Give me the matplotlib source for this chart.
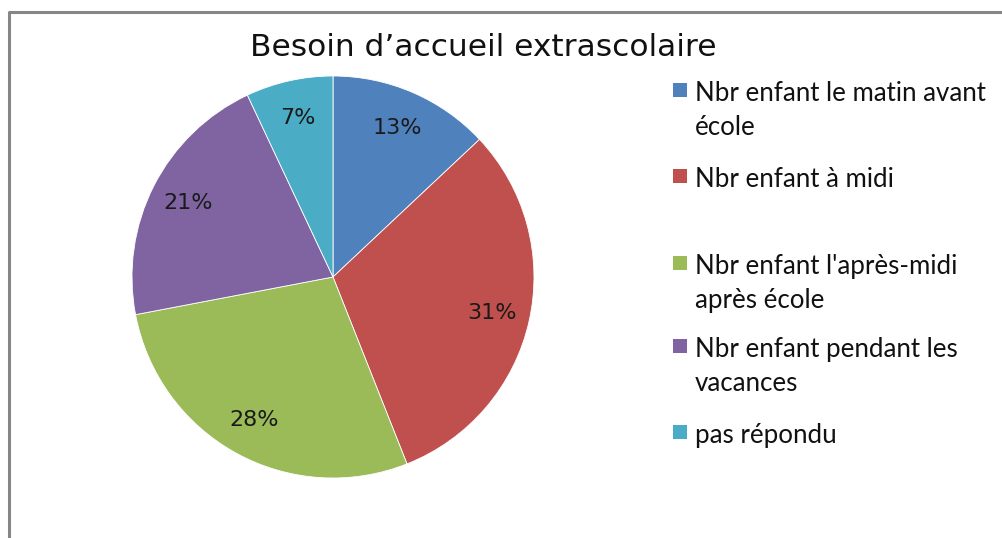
import matplotlib.pyplot as plt
from matplotlib.lines import Line2D
from matplotlib.patches import Rectangle

title = "Besoin d\u2019accueil extrascolaire"
categories = [
    "Nbr enfant le matin avant\n\u00e9cole",
    "Nbr enfant \u00e0 midi",
    "Nbr enfant l'apr\u00e8s-midi\napr\u00e8s \u00e9cole",
    "Nbr enfant pendant les\nvacances",
    "pas r\u00e9pondu",
]
values = [13, 31, 28, 21, 7]
colors = ["#4F81BD", "#C0504D", "#9BBB59", "#8064A2", "#4BACC6"]

W, H = 1002, 538
fig = plt.figure(figsize=(W / 100, H / 100), dpi=100)

# pie: centre (333, 277), radius ~201 px
cx, cy, r = 333, 277, 201
ax = fig.add_axes([(cx - r) / W, (H - cy - r) / H, 2 * r / W, 2 * r / H])
wedges, texts, autotexts = ax.pie(
    values, colors=colors, startangle=90, counterclock=False,
    autopct="%1.0f%%", pctdistance=0.81,
    wedgeprops=dict(linewidth=0.6, edgecolor="white"),
    textprops=dict(fontsize=16, color="#1a1a1a", family="DejaVu Sans"),
)
ax.set_xlim(-1, 1)
ax.set_ylim(-1, 1)
ax.set_aspect("equal")
ax.axis("off")

fig.text(483 / W, 1 - 47 / H, title, ha="center", va="center",
         fontsize=22.5, family="DejaVu Sans", color="#111111")

# legend, laid out like the Excel one
box_y = [90, 176, 263, 346, 432]
line_gap = 34
for lab, col, y in zip(categories, colors, box_y):
    fig.patches.append(Rectangle(((673) / W, 1 - (y + 7) / H), 14 / W, 14 / H,
                                 transform=fig.transFigure, facecolor=col,
                                 edgecolor="none"))
    for i, line in enumerate(lab.split("\n")):
        fig.text(695 / W, 1 - (y + i * line_gap + 1) / H, line, ha="left",
                 va="center_baseline", fontsize=18.6, family="Lato", color="#111111")

# chart frame (left and top edges visible)
fig.add_artist(Line2D([8.5 / W, 8.5 / W, 1.02], [-0.02, 1 - 11.5 / H, 1 - 11.5 / H],
                      transform=fig.transFigure, color="#868686", linewidth=2.2))

fig.savefig("out.png", dpi=100)
